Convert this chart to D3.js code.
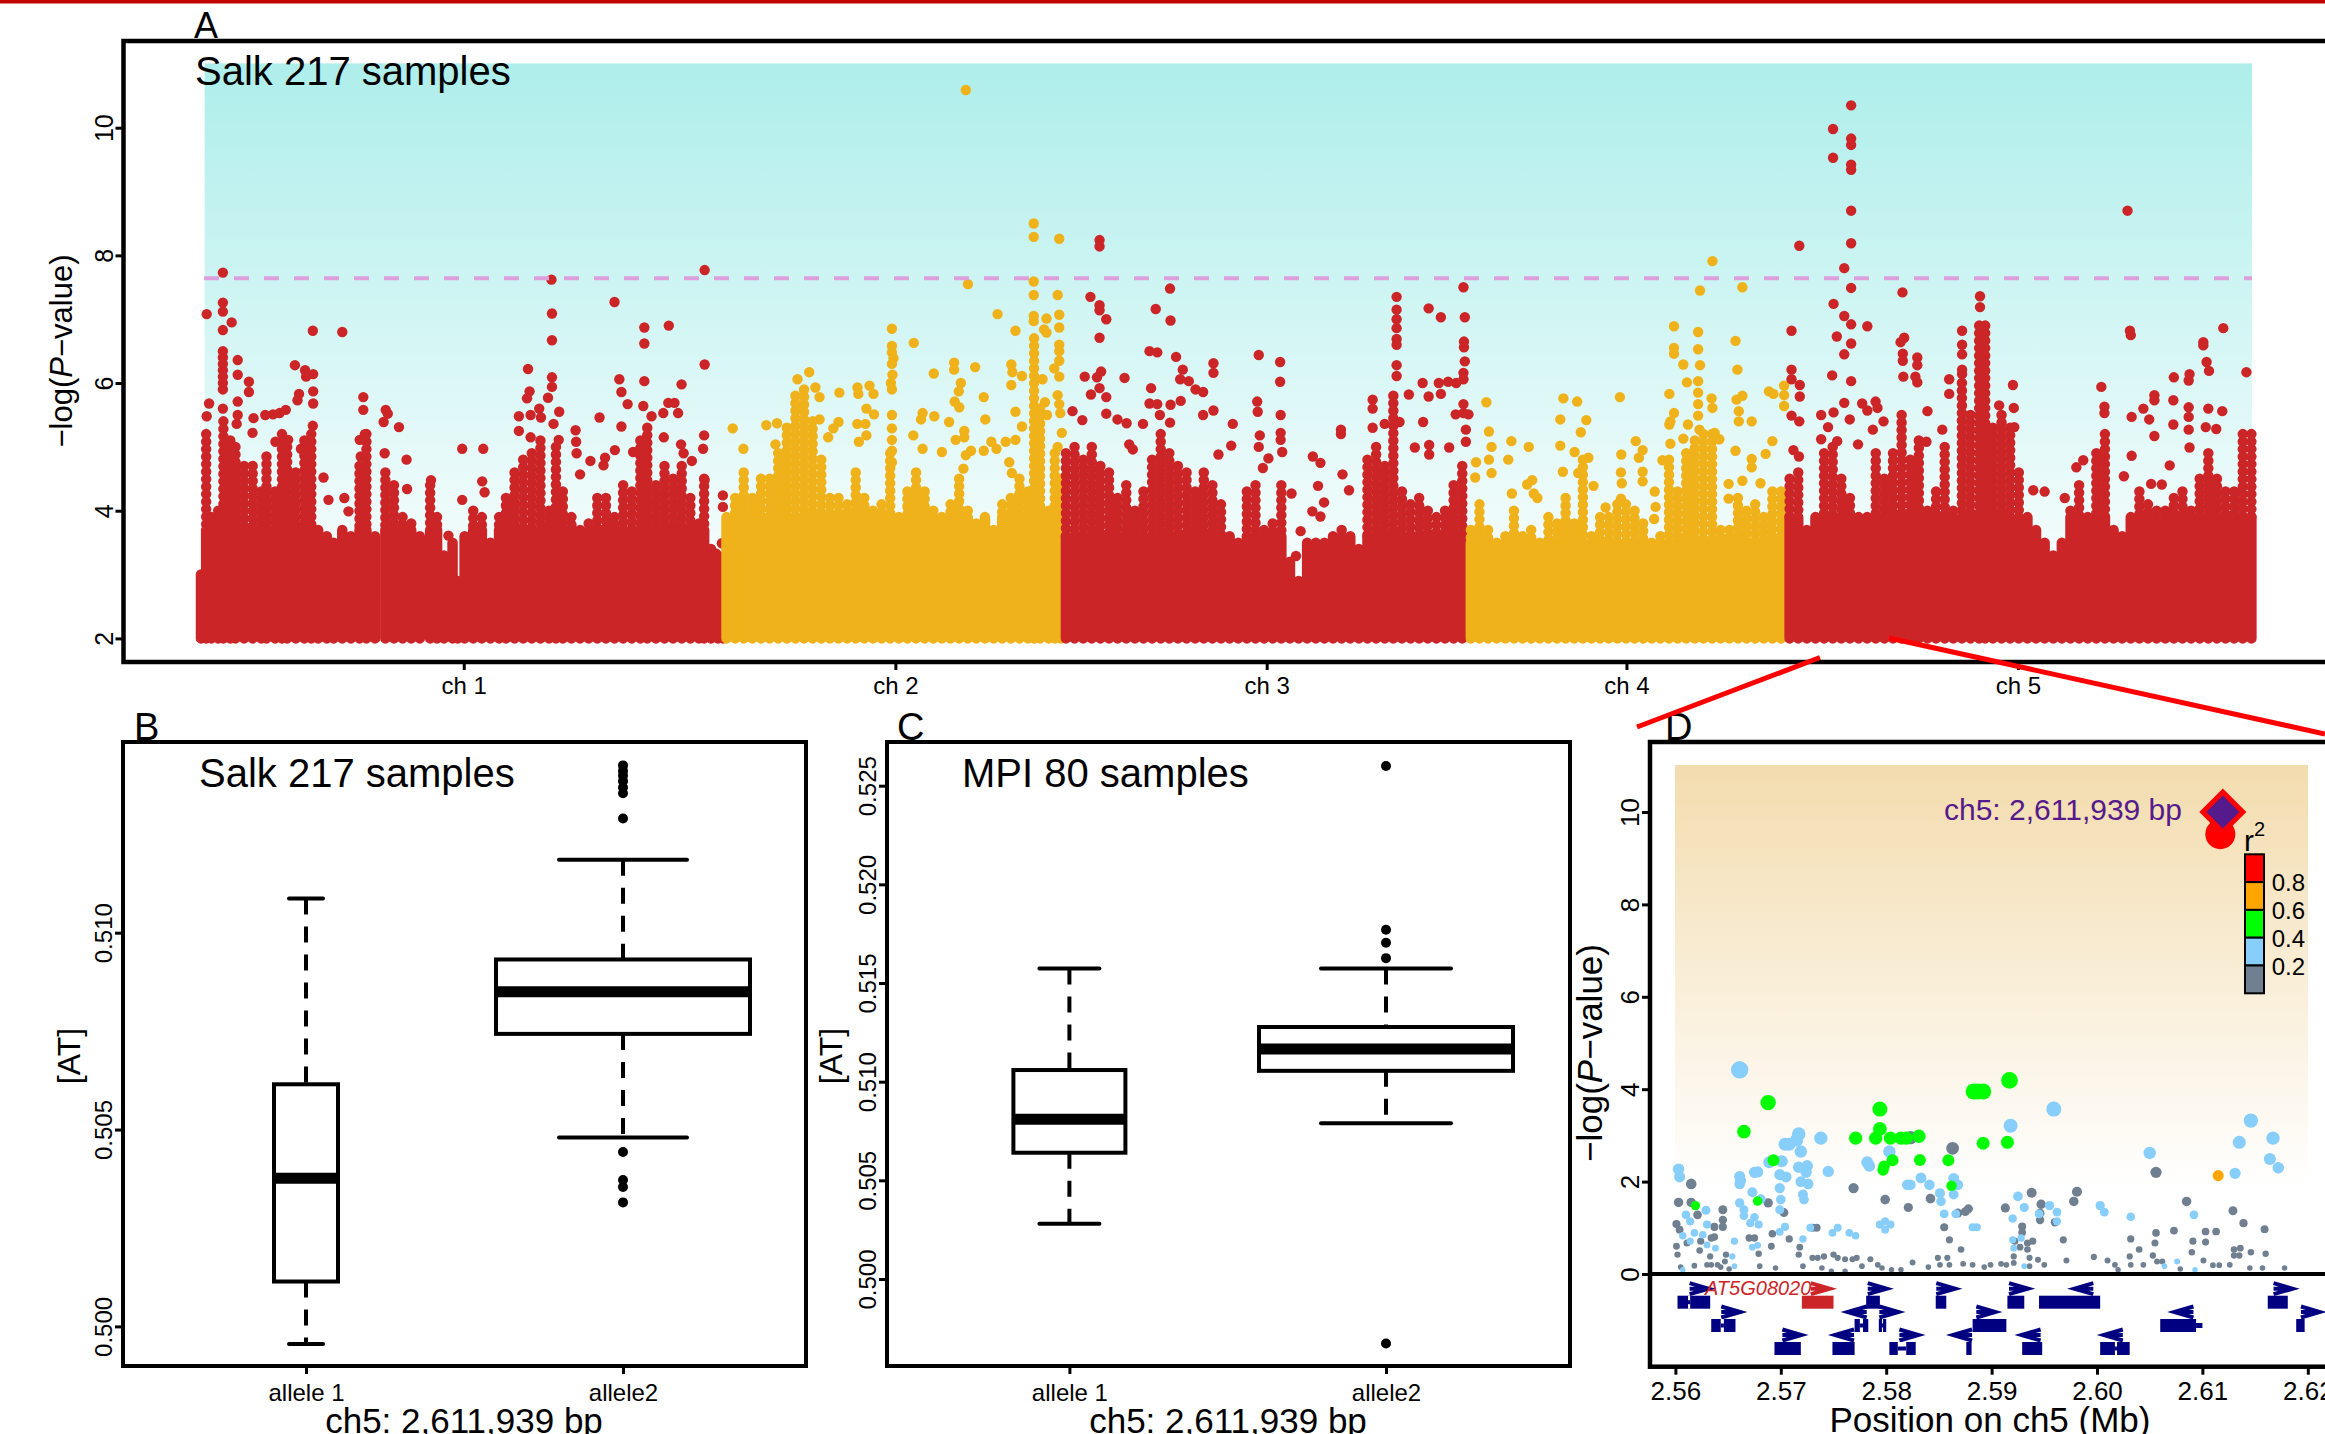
<!DOCTYPE html>
<html>
<head>
<meta charset="utf-8">
<script src="https://cdn.jsdelivr.net/npm/d3@7"></script>
<style>
  html, body { margin: 0; padding: 0; background: #fff; overflow: hidden; }
  svg { display: block; }
  text { font-family: "Liberation Sans", Arial, sans-serif; fill: #000; }
</style>
</head>
<body>
<svg id="chart" width="2325" height="1434"></svg>
<script>
// ---- panel A: column tops per chromosome, [Mb along the genome, -log P]
var ch1Tops = [[0,3.0],[0.3,5.2],[0.6,3.9],[1,4],[1.3,5.4],[1.7,5.1],[2,5],[2.5,4.7],[3,4.7],[3.5,4.3],[3.8,4.85],[4.3,4.3],[4.7,5.2],[5,5],[5.5,4.6],[6,5.1],[6.4,5.2],[6.8,3.7],[7.3,3.6],[7.7,3.5],[8.2,3.7],[8.7,3.6],[9.2,4.7],[9.6,5.2],[10.1,3.6],[10.7,4.6],[11.2,4.4],[11.7,3.9],[12.2,3.8],[12.7,3.6],[13.3,4.4],[13.7,3.9],[14.1,3.3],[14.6,3.5],[14.9,2.9],[15.3,3.6],[15.8,4],[16.3,3.9],[16.8,3.5],[17.3,3.9],[17.7,4.2],[18.2,4.6],[18.7,4.8],[19.2,4.9],[19.7,5.1],[20.2,4],[20.6,5],[21,4.3],[21.5,3.9],[22,3.7],[22.5,3.8],[23,4.2],[23.5,4.2],[24,3.9],[24.5,4.4],[25,4.3],[25.5,5.1],[25.9,5.3],[26.4,4.4],[26.9,4.7],[27.4,4.5],[27.9,4.7],[28.4,4.2],[28.9,3.8],[29.2,4.5],[29.6,3.4],[30,3.3],[30.3,3.2]];
var ch2Tops = [[30.5,3.9],[31,4.2],[31.5,4.6],[32,4.2],[32.5,4.5],[33,4.5],[33.5,4.9],[34,5.3],[34.5,5.8],[35,5.9],[35.5,5.4],[36,4.8],[36.5,4.2],[37,4.2],[37.5,4.1],[38,4.6],[38.5,4.2],[39,4],[39.5,4.1],[40,4.9],[40.5,3.9],[41,4.3],[41.5,4.6],[42,4.3],[42.5,4],[43,3.9],[43.5,4.1],[44,4.5],[44.5,4],[45,3.8],[45.5,3.9],[46,3.7],[46.5,4.1],[47,4.2],[47.5,4.5],[48,4.3],[48.35,6.7],[48.7,5.6],[49.2,4],[49.55,4.9],[49.9,4.5]];
var ch3Tops = [[50.2,4.9],[50.7,5],[51.2,4.8],[51.7,5],[52.2,4.7],[52.7,4.6],[53.2,4.2],[53.7,4.4],[54.2,4],[54.7,4.3],[55.2,4.8],[55.7,5.2],[56.2,4.9],[56.7,4.7],[57.2,4.6],[57.7,4.3],[58.2,4.6],[58.7,4.4],[59.2,4.1],[59.7,3.6],[60.2,3.5],[60.7,4.3],[61.2,4.4],[61.7,3.7],[62.2,3.8],[62.7,4.4],[63.2,3.2],[63.7,2.9],[64.2,3.5],[64.7,3.5],[65.2,3.5],[65.7,3.6],[66.2,3.7],[66.7,3.6],[67.2,3.4],[67.7,4.8],[68.2,5],[68.7,4.7],[69.2,5.8],[69.7,4.3],[70.2,4.1],[70.7,4.2],[71.2,4],[71.7,3.9],[72.2,4],[72.7,4.4],[73.2,4.7]];
var ch4Tops = [[73.7,3.7],[74.2,4.1],[74.7,3.7],[75.2,3.5],[75.7,3.6],[76.2,4],[76.7,3.6],[77.2,3.7],[77.7,3.5],[78.2,3.9],[78.7,3.8],[79.2,4.2],[79.7,3.8],[80.2,4.8],[80.7,3.6],[81.2,3.9],[81.7,3.9],[82.2,4.1],[82.7,4.1],[83.2,4],[83.7,3.8],[84.2,3.5],[84.7,3.6],[85.2,4.8],[85.7,4.3],[86.2,4.9],[86.7,5.1],[87.2,5.2],[87.7,5.2],[88.2,3.7],[88.7,3.7],[89.2,4.2],[89.7,4],[90.2,4.1],[90.7,3.9],[91.2,4.3],[91.7,4.3]];
var ch5Tops = [[92.2,4.5],[92.7,4.6],[93.2,3.7],[93.7,3.9],[94.2,4.9],[94.7,5],[95.2,4.5],[95.7,4.2],[96.2,3.9],[96.7,3.9],[97.2,4.9],[97.7,4.5],[98.2,4.9],[98.7,5.5],[99.2,4.8],[99.7,5.1],[100.2,4],[100.7,4.3],[101.2,5],[101.7,4],[102.2,6],[102.7,5.5],[103.2,6.9],[103.55,6.9],[104,5.3],[104.5,5.5],[105,5.3],[105.5,4.6],[106,3.9],[106.5,3.7],[107,3.5],[107.5,3.3],[108,3.5],[108.5,4],[109,4.4],[109.5,3.9],[110,4.9],[110.5,5.2],[111,3.7],[111.5,3.6],[112,3.9],[112.5,4.3],[113,4.1],[113.5,4],[114,4],[114.5,4.2],[115,4.3],[115.5,4],[116,4.5],[116.5,4.9],[117,4.5],[117.5,4.3],[118,4.3],[118.5,5.2],[119,5.2]];

// level below which each chromosome is an unbroken mass of dots
var solidLevels = [3.7, 3.9, 3.6, 3.5, 3.9];

// ---- panel A: single SNPs standing above the mass
var ch1Snps = [[0.33,7.08],[1.27,7.73],[1.27,7.26],[1.27,7.12],[1.78,6.95],[1.27,6.83],[1.27,6.5],[1.27,6.4],[1.27,6.3],[1.27,6.2],[1.27,6.1],[1.27,6],[1.27,5.9],[2.13,6.36],[2.13,6.13],[2.78,6.02],[2.78,5.86],[0.47,5.68],[0.33,5.48],[2.13,5.71],[1.27,5.6],[2.13,5.5],[2.07,5.36],[3.05,5.45],[3.73,5.5],[4.18,5.51],[4.56,5.53],[4.92,5.58],[5.45,6.28],[6.04,6.2],[6.1,6.1],[6.51,6.14],[6.49,6.82],[8.2,6.8],[5.69,5.83],[5.6,5.73],[6.51,5.87],[6.51,5.68],[6.49,5.33],[9.42,5.78],[9.42,5.58],[10.72,5.58],[10.84,5.52],[10.6,5.39],[11.49,5.31],[15.16,4.97],[16.38,4.97],[18.98,6.22],[19.07,5.87],[18.92,5.76],[20.14,5.77],[20.34,7.62],[20.37,7.09],[20.37,6.67],[20.37,6.09],[20.37,5.94],[24,7.27],[25.73,6.87],[25.73,6.62],[27.15,6.9],[29.23,7.77],[29.23,6.29],[24.28,6.06],[24.4,5.86],[24.76,5.67],[25.73,6.03],[25.67,5.64],[27.89,5.98],[27.12,5.69],[27.48,5.69],[26.83,5.53],[27.69,5.53],[26.15,5.48],[23.13,5.46],[24.4,5.32],[21.74,5.26],[21.77,5.08],[21.8,4.9],[20.79,5.55],[24.02,4.95],[22.6,4.78],[22,4.57],[23.45,4.83],[23.36,4.71],[18.45,5.48],[18.45,5.25],[19.13,5.5],[19.63,5.6],[19.73,5.46],[20.46,5.36],[19.13,5.15],[20.76,5.11],[25.08,4.92],[26.86,5.15],[27.86,5.04],[28.01,4.9],[28.49,4.78],[29.2,5.18],[29.14,4.97],[29.23,4.48],[30.29,4.24],[30.29,4.06],[30.23,3.49],[29.88,3.33],[13.35,4.48],[11.93,4.8],[10.66,4.9],[11.96,4.34],[7.4,4.17],[8.32,4.2],[7.11,4.52],[8.56,3.99],[16.32,4.46],[15.16,4.17],[16.46,4.29],[14.36,3.61],[9.51,5.2],[9.21,5.11],[9.27,4.85],[4.32,5.08],[5.06,5.11],[4.77,5],[5.8,4.97],[2.99,5.22],[1.66,5.08]];
var ch2Snps = [[44.39,10.59],[44.51,7.55],[48.33,8.5],[48.33,8.29],[49.81,8.26],[48.33,7.59],[48.33,7.38],[49.72,7.38],[46.23,7.08],[49.81,7.07],[48.33,7.05],[48.33,6.97],[49.07,7.01],[49.81,6.87],[47.27,6.82],[48.93,6.84],[49.07,6.79],[40.1,6.85],[41.37,6.63],[40.1,6.58],[40.1,6.48],[40.19,6.39],[40.1,6.3],[40.13,6.13],[40.04,6],[40.1,5.9],[35.3,6.17],[35.66,5.93],[35.9,5.78],[37.05,5.85],[38.1,5.93],[38.15,5.83],[38.8,5.96],[39.03,5.83],[42.53,6.15],[43.71,6.32],[43.71,6.21],[44.93,6.25],[44.1,6],[43.98,5.87],[43.74,5.71],[44.01,5.62],[45.43,5.78],[47.03,6.29],[47.09,6.17],[47.65,6.11],[47.03,5.97],[47.27,5.55],[49.81,6.6],[49.81,6.5],[49.81,6.35],[49.81,6.1],[48.84,6.06],[49.52,6.23],[49.72,5.81],[49.81,5.67],[49.87,5.53],[48.98,5.7],[49.1,5.5],[49.96,5.22],[38.62,5.6],[39.06,5.51],[38.56,5.36],[38.09,5.36],[35.9,5.43],[37,5.39],[36.7,5.29],[36.4,5.15],[40.1,5.5],[40.1,5.29],[40.1,5.11],[40.1,4.94],[40.1,4.76],[38.62,5.18],[38.18,5.08],[41.88,5.53],[42.56,5.48],[41.79,5.43],[43.42,5.39],[45.52,5.43],[41.34,5.18],[44.3,5.25],[44.3,5.15],[43.8,5.11],[41.88,4.97],[43,4.92],[44.69,4.94],[45.43,4.94],[45.87,5.08],[46.17,4.97],[46.7,5.08],[47.27,5.11],[47.65,5.32],[44.39,4.87],[46.91,4.76],[44.25,4.66],[47.06,4.59],[49.72,5],[30.86,5.29],[32.81,5.34],[33.43,5.37],[31.48,4.97],[33.34,5.04],[34.62,6.06],[34.62,5.64]];
var ch3Snps = [[52.15,8.24],[52.15,8.14],[56.24,7.48],[73.27,7.5],[51.62,7.35],[52.15,7.22],[52.15,7.14],[52.54,7],[55.41,7.16],[56.27,6.98],[52.15,6.71],[69.39,7.35],[69.39,7.15],[69.39,7],[69.39,6.86],[69.39,6.69],[69.39,6.6],[71.25,7.17],[71.96,7.03],[73.35,7.03],[73.3,6.65],[73.3,6.56],[73.35,6.34],[73.27,6.16],[73.27,6.06],[69.39,6.28],[69.39,6.11],[55.05,6.5],[55.5,6.48],[56.59,6.41],[56.98,6.21],[56.83,6.06],[57.33,6.03],[57.72,5.9],[58.16,5.86],[58.76,6.31],[58.76,6.16],[61.39,6.44],[62.63,6.33],[62.63,6.02],[51.29,6.1],[52.24,6.18],[52,6.09],[53.6,6.08],[52.15,5.92],[51.65,5.82],[52.54,5.78],[55.14,5.92],[55.05,5.68],[55.5,5.67],[56.27,5.66],[56.86,5.72],[50.58,5.56],[52.54,5.52],[51.15,5.42],[53.19,5.43],[53.72,5.37],[54.67,5.36],[55.65,5.5],[56.24,5.38],[58.16,5.5],[58.76,5.57],[59.88,5.36],[61.3,5.71],[61.33,5.55],[62.66,5.5],[62.66,5.22],[62.66,5.11],[61.45,5.18],[61.39,5],[70.9,6],[71.84,6],[72.38,6.02],[72.85,6],[70.1,5.82],[71.25,5.79],[71.96,5.83],[73.27,5.67],[73.27,5.53],[72.82,5.51],[73.56,5.51],[70.93,5.39],[68,5.74],[68,5.6],[68.7,5.36],[69.56,5.39],[68,5.3],[73.41,5.27],[66.16,5.27],[66.16,5.2],[73.41,5.08],[71.28,5.03],[70.45,4.99],[71.28,4.88],[72.44,4.99],[53.87,5.04],[54.08,4.96],[59.79,5.02],[59.05,4.88],[64.53,4.85],[64.97,4.75],[62.75,4.92],[61.95,4.82],[61.63,4.67],[66.25,4.57],[64.83,4.39],[66.63,4.32],[65.18,4.13],[63.29,4.27],[64.5,3.99],[64.97,3.91],[63.82,3.68],[63.55,3.29]];
var ch4Snps = [[74.6,5.7],[79.07,5.76],[79.87,5.71],[78.89,5.43],[80.4,5.42],[74.75,5.24],[80.08,5.23],[76.05,5.09],[77.06,5],[78.89,5.02],[74.9,5],[74.75,4.8],[75.87,4.8],[79.72,4.92],[80.52,4.83],[74,4.76],[79.04,4.61],[79.93,4.59],[74.9,4.59],[77.26,4.48],[76.97,4.41],[80.82,4.39],[77.35,4.27],[77.56,4.2],[76.08,4.27],[73.95,4.52],[87.72,7.91],[87,7.45],[89.46,7.5],[85.49,6.89],[86.89,6.8],[89.06,6.66],[85.49,6.55],[85.49,6.46],[86.89,6.53],[86.03,6.29],[87,6.28],[89.17,6.21],[86.24,6.01],[86.89,6.03],[86.89,5.85],[86.89,5.67],[86.89,5.49],[86.97,5.27],[82.35,5.78],[85.22,5.83],[87.67,5.76],[87.72,5.61],[89.12,5.74],[89.46,5.8],[91,5.87],[91.26,5.83],[91.88,5.96],[91.88,5.81],[91.88,5.64],[89.25,5.56],[85.49,5.53],[85.28,5.4],[85.22,5.35],[89.25,5.4],[90,5.4],[86.3,5.35],[87.85,5.22],[88.12,5.12],[86.03,5.13],[85.28,5.05],[83.27,5.09],[83.67,4.95],[83.45,4.83],[82.43,4.88],[91.2,5.09],[89.06,4.94],[90.81,4.89],[90,4.81],[90,4.68],[84.82,4.79],[82.41,4.6],[83.67,4.61],[83.67,4.46],[82.46,4.43],[88.66,4.42],[88.66,4.19],[89.46,4.47],[90.51,4.43],[84.37,4.3],[84.42,4.06],[84.34,3.87],[81.52,4.05],[82.41,4.19]];
var ch5Snps = [[95.77,10.35],[94.72,9.98],[95.77,9.83],[95.77,9.73],[94.72,9.53],[95.77,9.42],[95.77,9.34],[95.77,8.7],[111.81,8.7],[92.76,8.15],[95.77,8.19],[95.37,7.8],[95.77,7.49],[98.75,7.42],[94.75,7.24],[95.37,7.05],[95.77,6.92],[96.71,6.89],[92.31,6.82],[94.94,6.73],[95.77,6.62],[95.37,6.45],[103.25,7.36],[103.25,7.19],[102.21,6.82],[102.21,6.6],[102.21,6.45],[102.21,6.21],[102.21,6.14],[111.95,6.82],[112,6.75],[117.37,6.86],[116.21,6.64],[116.21,6.59],[116.4,6.33],[116.54,6.19],[118.71,6.17],[114.5,6.09],[115.41,6.14],[115.36,6.04],[98.85,6.71],[98.64,6.64],[98.77,6.46],[98.77,6.35],[99.61,6.4],[99.61,6.28],[98.8,6.1],[99.5,6.1],[99.61,6.01],[94.67,6.12],[92.31,6.21],[92.31,6.06],[92.79,5.97],[92.79,5.79],[95.77,6.03],[101.46,6.06],[101.46,5.83],[105.16,5.97],[110.29,5.94],[113.37,5.81],[113.37,5.73],[114.47,5.73],[112.73,5.6],[110.47,5.63],[110.47,5.53],[115.36,5.62],[116.5,5.6],[117.31,5.56],[115.36,5.47],[112.05,5.47],[113.07,5.43],[114.47,5.35],[115.36,5.27],[116.35,5.31],[116.96,5.28],[113.37,5.17],[115.41,4.99],[112.05,4.86],[92.31,5.49],[92.76,5.4],[92.42,4.95],[92.74,4.85],[96.41,5.68],[96.71,5.57],[97.19,5.71],[97.3,5.61],[94.03,5.5],[94.75,5.54],[95.37,5.69],[95.69,5.43],[94.43,5.31],[94.96,5.09],[94.03,5.12],[97.65,5.4],[97.03,5.27],[100.2,5.56],[100.14,5.08],[96.17,5.04],[101.06,5.27],[104.36,5.65],[105.21,5.61],[105.24,5.31],[107,4.3],[106.34,4.32],[108.17,4.2],[108.84,4.68],[109.24,4.79],[113.18,4.42],[113.8,4.41],[111.6,4.54],[114.26,4.71]];

var chromNames = ["ch 1", "ch 2", "ch 3", "ch 4", "ch 5"];
var chromMids = [15.25, 40.3, 61.85, 82.73, 105.45];
var threshold = 7.64;
var yTicksA = [2, 4, 6, 8, 10];

// ---- panels B and C: [lower whisker, q1, median, q3, upper whisker]
var alleles = ["allele 1", "allele2"];
var salkStats = [[0.49955, 0.50114, 0.50376, 0.50615, 0.51087], [0.5048, 0.50743, 0.5085, 0.50932, 0.51185]];
var salkOutliers = [[], [0.51425, 0.51411, 0.51399, 0.51385, 0.51369, 0.51354, 0.5129, 0.50443, 0.50372, 0.50354, 0.50315]];
var mpiStats = [[0.5028, 0.5064, 0.5081, 0.51059, 0.51573], [0.50789, 0.51055, 0.51166, 0.51277, 0.51573]];
var mpiOutliers = [[], [0.526, 0.5177, 0.51704, 0.51626, 0.49673]];
var yTicksB = [0.5, 0.505, 0.51];
var yTicksC = [0.5, 0.505, 0.51, 0.515, 0.52, 0.525];

// ---- panel D: [position Mb, -log P] per r2 class
var r2Green = [[2.5665,3.08],[2.5688,3.71],[2.5619,1.48],[2.5678,1.58],[2.5693,2.46],[2.5794,3.57],[2.5794,3.14],[2.579,2.94],[2.5771,2.94],[2.5804,2.94],[2.5814,2.94],[2.5819,2.94],[2.5831,2.98],[2.5806,2.46],[2.5798,2.33],[2.5797,2.25],[2.5832,2.47],[2.5859,2.46],[2.5862,1.91],[2.5883,3.95],[2.5887,3.95],[2.5892,3.95],[2.5917,4.19],[2.5892,2.83],[2.5915,2.85]];
var r2Orange = [[2.6115,2.13]];
var r2Blue = [[2.5661,4.42],[2.5717,3.03],[2.5715,2.9],[2.5738,2.94],[2.5704,2.81],[2.5708,2.81],[2.5719,2.65],[2.5689,2.42],[2.5701,2.44],[2.5725,2.34],[2.5717,2.31],[2.5724,2.2],[2.5745,2.22],[2.5678,2.21],[2.5675,2.2],[2.5603,2.27],[2.5604,2.1],[2.5661,2.11],[2.5662,2.02],[2.5661,1.95],[2.5699,2.15],[2.5705,2.1],[2.5699,1.86],[2.5719,2],[2.5726,1.95],[2.5721,1.72],[2.5722,1.61],[2.5673,1.77],[2.5661,1.54],[2.5665,1.39],[2.5665,1.26],[2.5681,1.62],[2.57,1.61],[2.5699,1.39],[2.561,1.28],[2.5629,1.38],[2.5614,1.14],[2.563,1.07],[2.5607,0.83],[2.5618,0.89],[2.5626,0.85],[2.5614,0.71],[2.563,0.63],[2.5638,0.56],[2.5671,1.1],[2.5675,1.23],[2.5679,1.07],[2.5704,1.02],[2.5699,0.91],[2.5728,1],[2.5754,1],[2.5749,0.89],[2.5765,0.89],[2.5771,0.83],[2.5721,0.76],[2.5656,0.71],[2.5673,0.58],[2.5678,0.62],[2.5654,0.38],[2.5803,2.65],[2.5782,2.42],[2.5784,2.34],[2.582,1.93],[2.5823,1.93],[2.5833,2.08],[2.5841,1.93],[2.5851,1.75],[2.5852,1.57],[2.5864,2.07],[2.5868,1.93],[2.5864,1.72],[2.5855,1.3],[2.5866,1.3],[2.5794,1.07],[2.5799,1.14],[2.5804,1.07],[2.5799,0.96],[2.5882,1.01],[2.5886,1.01],[2.5918,3.21],[2.5959,3.57],[2.5925,1.68],[2.5931,1.44],[2.592,1.2],[2.592,0.74],[2.5928,0.78],[2.5921,0.56],[2.5945,1.3],[2.5955,1.48],[2.5962,1.34],[2.5962,1.14],[2.6003,1.48],[2.6007,1.34],[2.6032,1.24],[2.605,2.62],[2.6092,1.28],[2.6135,2.85],[2.6146,3.32],[2.6167,2.94],[2.6164,2.49],[2.6172,2.3],[2.6131,2.18],[2.6076,0.27],[2.6064,0.17],[2.5931,0.17],[2.6093,0.09],[2.5607,0.09],[2.5656,0.17]];
var r2Grey = [[2.5615,1.95],[2.5603,1.55],[2.5615,1.55],[2.5621,1.28],[2.5645,1.39],[2.5688,1.54],[2.5703,1.33],[2.5601,1.08],[2.5604,0.96],[2.5637,1.02],[2.5645,1.17],[2.5645,1.02],[2.5634,0.78],[2.5637,0.8],[2.5624,0.71],[2.5611,0.67],[2.5601,0.6],[2.5602,0.42],[2.5623,0.51],[2.5633,0.38],[2.5648,0.42],[2.5634,0.2],[2.564,0.2],[2.5647,0.27],[2.5618,0.18],[2.563,0.2],[2.5605,0.15],[2.5643,0.15],[2.5651,0.11],[2.567,0.78],[2.5675,0.78],[2.5692,0.87],[2.5691,0.6],[2.5708,0.76],[2.5679,0.44],[2.5718,0.58],[2.5717,0.42],[2.5721,0.17],[2.568,0.17],[2.5695,0.13],[2.573,1],[2.5734,1],[2.573,0.35],[2.5735,0.35],[2.5741,0.38],[2.575,0.42],[2.5754,0.35],[2.5761,0.32],[2.5768,0.32],[2.5772,0.35],[2.5785,0.32],[2.5739,0.13],[2.5748,0.06],[2.5761,0.06],[2.5777,0.17],[2.5792,0.2],[2.5796,0.13],[2.5805,0.09],[2.5814,0.09],[2.5825,0.25],[2.584,0.15],[2.5849,0.35],[2.5858,0.35],[2.5851,0.2],[2.586,0.2],[2.5873,0.22],[2.5882,0.2],[2.5893,0.15],[2.5899,0.2],[2.5909,0.22],[2.5914,0.2],[2.5871,0.53],[2.5769,1.86],[2.5799,1.61],[2.5821,1.44],[2.5842,1.63],[2.5855,1.01],[2.586,0.74],[2.5863,2.72],[2.5823,2.95],[2.5868,1.32],[2.5875,1.35],[2.5878,1.41],[2.5913,1.43],[2.5938,1.76],[2.5947,1.51],[2.5946,1.32],[2.5946,1.17],[2.596,1.12],[2.5929,1.03],[2.5929,0.9],[2.5922,0.71],[2.5927,0.58],[2.5934,0.67],[2.5939,0.71],[2.5934,0.53],[2.5936,0.35],[2.5944,0.31],[2.5921,0.38],[2.5921,0.24],[2.5936,0.17],[2.595,0.2],[2.5968,0.74],[2.5971,0.29],[2.5978,1.57],[2.5981,1.78],[2.5997,0.37],[2.601,0.29],[2.6017,0.2],[2.602,0.09],[2.6031,0.38],[2.6032,0.76],[2.6032,0.2],[2.604,0.53],[2.6044,0.2],[2.6053,0.4],[2.6056,0.89],[2.6055,0.67],[2.6057,0.27],[2.6056,2.2],[2.6073,0.94],[2.6085,1.57],[2.609,0.47],[2.6091,0.71],[2.6103,0.92],[2.6113,0.92],[2.6103,0.69],[2.6101,0.29],[2.611,0.19],[2.6116,0.19],[2.6126,0.2],[2.6129,1.37],[2.6139,1.1],[2.6159,0.97],[2.613,0.53],[2.6136,0.56],[2.613,0.4],[2.6135,0.4],[2.6146,0.47],[2.616,0.44],[2.6145,0.13],[2.6157,0.13],[2.6178,0.13],[2.6079,0.11],[2.6062,0.27]];
var leadCircle = [2.6117, 9.52];
var leadSnp = [2.611939, 10];
var xTicksD = [2.56, 2.57, 2.58, 2.59, 2.6, 2.61, 2.62];
var yTicksD = [0, 2, 4, 6, 8, 10];

// genes: [start Mb, end Mb, row, strand, arrow centre Mb]
var genes = [
  [2.5602,2.5633,0,1,2.5623],[2.5720,2.5750,0,1,2.5738],[2.5781,2.5794,0,1,2.5792],[2.5847,2.5857,0,1,2.5857],[2.5915,2.5931,0,1,2.5926],[2.5945,2.6003,0,-1,2.5987],[2.6162,2.6181,0,1,2.6177],
  [2.5634,2.5657,1,1,2.5653],[2.5770,2.5783,1,-1,2.5772],[2.5793,2.5800,1,1,2.5803],[2.5882,2.5914,1,1,2.5895],[2.6060,2.6094,1,-1,2.6082],[2.6189,2.6197,1,1,2.6203],
  [2.5694,2.5719,2,1,2.5711],[2.5749,2.5770,2,-1,2.5760],[2.5803,2.5828,2,1,2.5822],[2.5876,2.5881,2,-1,2.5872],[2.5929,2.5948,2,-1,2.5937],[2.6003,2.6031,2,-1,2.6015]
];
// introns inside the gene bars: [start Mb, end Mb, row]
var geneGaps = [[2.5612,2.5614,0],[2.5643,2.5646,1],[2.5775,2.5778,1],[2.5796,2.5797,1],[2.5811,2.5819,2],[2.6017,2.6019,2]];
var geneTail = [2.6094, 2.6100, 1];
var highlightGene = "AT5G08020";
var highlightIndex = 1;
var r2Labels = ["0.8", "0.6", "0.4", "0.2"];
var r2Colors = ["#ff0000", "#ffa500", "#00ff00", "#87cefa", "#708090"];

var RED = "#cc2528", GOLD = "#efb21a", NAVY = "#000080";

var svg = d3.select("#chart");
var defs = svg.append("defs");

function addGradient(id, top) {
  var g = defs.append("linearGradient").attr("id", id).attr("x1", 0).attr("x2", 0).attr("y1", 0).attr("y2", 1);
  g.append("stop").attr("offset", "0%").attr("stop-color", top);
  g.append("stop").attr("offset", "100%").attr("stop-color", "#ffffff");
}
addGradient("gradA", "#aeeeeb");
addGradient("gradD", "#f3dcae");

// add text helper
function label(x, y, str, size, anchor, rotate) {
  var t = svg.append("text").attr("font-size", size).attr("text-anchor", anchor || "start");
  if (rotate) t.attr("transform", `translate(${x},${y}) rotate(-90)`);
  else t.attr("x", x).attr("y", y);
  return t.text(str);
}

// left axis with the R style rotated labels
function leftAxis(scale, ticks, left, fmt, size) {
  var g = svg.append("g").attr("transform", `translate(${left},0)`)
    .call(d3.axisLeft(scale).tickValues(ticks).tickSize(8).tickFormat(fmt));
  g.select(".domain").remove();
  g.selectAll("line").attr("stroke", "#000").attr("stroke-width", 3);
  g.selectAll("text").attr("x", null).attr("dy", null).attr("text-anchor", "middle")
    .attr("font-size", size).attr("font-family", "Liberation Sans")
    .attr("transform", "translate(-11,0) rotate(-90)");
}

function bottomAxis(scale, ticks, bottom, fmt, size, pad) {
  var g = svg.append("g").attr("transform", `translate(0,${bottom})`)
    .call(d3.axisBottom(scale).tickValues(ticks).tickSize(8).tickPadding(pad).tickFormat(fmt));
  g.select(".domain").remove();
  g.selectAll("line").attr("stroke", "#000").attr("stroke-width", 3);
  g.selectAll("text").attr("font-size", size).attr("font-family", "Liberation Sans");
}

// frame, open past the right edge of the page for A and D
function frame(x0, y0, x1, y1, w) {
  svg.append("rect").attr("x", x0).attr("y", y0).attr("width", x1 - x0).attr("height", y1 - y0)
    .attr("fill", "none").attr("stroke", "#000").attr("stroke-width", w);
}

// ---- top rule of the page
svg.append("rect").attr("x", 0).attr("y", 0).attr("width", 2325).attr("height", 3.5).attr("fill", "#c00000");

// ---- panel A
var xA = d3.scaleLinear().domain([0, 119.25]).range([201, 2255.7]);
var yA = d3.scaleLinear().domain([2, 10]).range([638.4, 127.7]);

svg.append("rect").attr("x", 204.6).attr("y", 63.4).attr("width", 2047.4).attr("height", 576)
  .attr("fill", "url(#gradA)");

var chroms = [
  {tops: ch1Tops, snps: ch1Snps, color: RED},
  {tops: ch2Tops, snps: ch2Snps, color: GOLD},
  {tops: ch3Tops, snps: ch3Snps, color: RED},
  {tops: ch4Tops, snps: ch4Snps, color: GOLD},
  {tops: ch5Tops, snps: ch5Snps, color: RED}
];

chroms.forEach(function(c, i) {
  var g = svg.append("g");
  var solid = solidLevels[i];
  // solid part of every column
  g.selectAll("line.base").data(c.tops).join("line").attr("class", "base")
    .attr("x1", d => xA(d[0])).attr("x2", d => xA(d[0]))
    .attr("y1", yA(2)).attr("y2", d => yA(Math.min(d[1], solid)))
    .attr("stroke", c.color).attr("stroke-width", 10.5).attr("stroke-linecap", "round");
  // above it the column is a stack of touching dots
  g.selectAll("line.stack").data(c.tops.filter(d => d[1] > solid)).join("line").attr("class", "stack")
    .attr("x1", d => xA(d[0])).attr("x2", d => xA(d[0]))
    .attr("y1", d => yA(d[1])).attr("y2", yA(solid))
    .attr("stroke", c.color).attr("stroke-width", 10.5).attr("stroke-linecap", "round")
    .attr("stroke-dasharray", "0 7.5");
  g.selectAll("circle").data(c.snps).join("circle")
    .attr("cx", d => xA(d[0])).attr("cy", d => yA(d[1])).attr("r", 5.2)
    .attr("fill", c.color);
});

svg.append("line").attr("x1", 204).attr("x2", 2252).attr("y1", yA(threshold)).attr("y2", yA(threshold))
  .attr("stroke", "#dda0dd").attr("stroke-width", 4).attr("stroke-dasharray", "15 15");

frame(123.5, 41, 2400, 662, 4.5);
leftAxis(yA, yTicksA, 123.5, d3.format("d"), 25);
bottomAxis(xA, chromMids, 662, (d, i) => chromNames[i], 24, 7);
label(194, 38, "A", 36);
label(195, 85, "Salk 217 samples", 40);
var titleA = label(72, 351, "", 31, "middle", true);
titleA.append("tspan").text("\u2212log(");
titleA.append("tspan").attr("font-style", "italic").text("P");
titleA.append("tspan").text("\u2212value)");

// ---- panels B and C
function boxPanel(cfg) {
  var x = d3.scalePoint().domain(alleles).range(cfg.centres);
  var y = d3.scaleLinear().domain(cfg.yDomain).range(cfg.yRange);

  frame(cfg.left, 742, cfg.right, 1366, 4);
  leftAxis(y, cfg.ticks, cfg.left, d3.format(".3f"), 24);
  bottomAxis(x, alleles, 1366, d => d, 24, 10);

  alleles.forEach(function(name, i) {
    var s = cfg.stats[i], cx = x(name), g = svg.append("g");
    var hb = cfg.boxHalf[i], hc = cfg.capHalf[i];
    [[s[3], s[4]], [s[0], s[1]]].forEach(function(w) {
      g.append("line").attr("x1", cx).attr("x2", cx).attr("y1", y(w[1])).attr("y2", y(w[0]))
        .attr("stroke", "#000").attr("stroke-width", 4).attr("stroke-dasharray", "16 12");
    });
    [s[0], s[4]].forEach(function(v) {
      g.append("line").attr("x1", cx - hc).attr("x2", cx + hc).attr("y1", y(v)).attr("y2", y(v))
        .attr("stroke", "#000").attr("stroke-width", 4).attr("stroke-linecap", "round");
    });
    g.append("rect").attr("x", cx - hb).attr("width", 2 * hb)
      .attr("y", y(s[3])).attr("height", y(s[1]) - y(s[3]))
      .attr("fill", "#fff").attr("stroke", "#000").attr("stroke-width", 4);
    g.append("line").attr("x1", cx - hb).attr("x2", cx + hb).attr("y1", y(s[2])).attr("y2", y(s[2]))
      .attr("stroke", "#000").attr("stroke-width", 11);
    g.selectAll("circle").data(cfg.outliers[i]).join("circle")
      .attr("cx", cx).attr("cy", d => y(d)).attr("r", 5).attr("fill", "#000");
  });

  label(cfg.letterX, 740, cfg.letter, 38);
  label(cfg.titleX, 786.6, cfg.title, 40);
  label(cfg.atX, 1056, "[AT]", 32, "middle", true);
  label(cfg.footX, 1433, "ch5: 2,611,939 bp", 35, "middle");
}

boxPanel({
  letter: "B", letterX: 134, title: "Salk 217 samples", titleX: 199,
  left: 123, right: 806, centres: [306, 623], atX: 80, footX: 464,
  yDomain: [0.5, 0.51], yRange: [1326.4, 932.7], ticks: yTicksB,
  stats: salkStats, outliers: salkOutliers, boxHalf: [32, 127], capHalf: [17, 64]
});
boxPanel({
  letter: "C", letterX: 897, title: "MPI 80 samples", titleX: 962,
  left: 887, right: 1570, centres: [1069.4, 1386], atX: 842, footX: 1228,
  yDomain: [0.5, 0.525], yRange: [1279, 785.7], ticks: yTicksC,
  stats: mpiStats, outliers: mpiOutliers, boxHalf: [56, 127], capHalf: [30, 65]
});

// ---- panel D
var xD = d3.scaleLinear().domain([2.56, 2.62]).range([1675.4, 2307.8]);
var yD = d3.scaleLinear().domain([0, 10]).range([1274, 812]);
var rD = d3.scaleLinear().domain([0, 4.5]).range([2.6, 8.8]);

svg.append("rect").attr("x", 1675).attr("y", 765).attr("width", 633).attr("height", 420)
  .attr("fill", "url(#gradD)");

[[r2Grey, r2Colors[4]], [r2Blue, r2Colors[3]], [r2Green, r2Colors[2]], [r2Orange, r2Colors[1]]].forEach(function(s) {
  svg.append("g").selectAll("circle").data(s[0]).join("circle")
    .attr("cx", d => xD(d[0])).attr("cy", d => yD(d[1])).attr("r", d => rD(d[1]))
    .attr("fill", s[1]);
});

svg.append("circle").attr("cx", xD(leadCircle[0])).attr("cy", yD(leadCircle[1])).attr("r", 15).attr("fill", "#ff0000");
svg.append("path").attr("transform", `translate(${xD(leadSnp[0])},${yD(leadSnp[1])})`)
  .attr("d", "M0,-20L20,0L0,20L-20,0Z").attr("fill", "#551a8b").attr("stroke", "#ff0000").attr("stroke-width", 5);
label(1944, 820, "ch5: 2,611,939 bp", 30).style("fill", "#551a8b");

// r2 legend
var legY = d3.scaleBand().domain(r2Colors).range([854.3, 993.3]);
svg.append("g").selectAll("rect").data(r2Colors).join("rect")
  .attr("x", 2245).attr("width", 19).attr("y", d => legY(d)).attr("height", legY.bandwidth())
  .attr("fill", d => d).attr("stroke", "#000").attr("stroke-width", 2);
svg.append("g").selectAll("text").data(r2Labels).join("text")
  .attr("x", 2271.7).attr("y", (d, i) => legY(r2Colors[i + 1]) + 9).attr("font-size", 24).text(d => d);
label(2244, 851, "r", 30);
label(2254, 836, "2", 20);

// genes
var rowTop = [1281.7, 1305, 1328];
var gGenes = svg.append("g");
genes.forEach(function(d, i) {
  var col = i === highlightIndex ? RED : NAVY;
  var top = rowTop[d[2]], ax = xD(d[4]), s = d[3];
  gGenes.append("rect").attr("x", xD(d[0])).attr("width", xD(d[1]) - xD(d[0]))
    .attr("y", top + 14).attr("height", 13).attr("fill", col);
  gGenes.append("path")
    .attr("d", `M${ax - 10 * s},${top + 1.5}L${ax + 9 * s},${top + 7}L${ax - 10 * s},${top + 12.5}M${ax - 10 * s},${top + 7}L${ax + 9 * s},${top + 7}`)
    .attr("fill", "none").attr("stroke", col).attr("stroke-width", 4);
});
gGenes.selectAll("rect.gap").data(geneGaps).join("rect").attr("class", "gap")
  .attr("x", d => xD(d[0])).attr("width", d => xD(d[1]) - xD(d[0]))
  .attr("y", d => rowTop[d[2]] + 14).attr("height", 13).attr("fill", "#fff");
gGenes.selectAll("rect.gap2").data(geneGaps).join("rect").attr("class", "gap2")
  .attr("x", d => xD(d[0])).attr("width", d => xD(d[1]) - xD(d[0]))
  .attr("y", d => rowTop[d[2]] + 18.5).attr("height", 4).attr("fill", NAVY);
gGenes.append("rect").attr("x", xD(geneTail[0])).attr("width", xD(geneTail[1]) - xD(geneTail[0]))
  .attr("y", rowTop[geneTail[2]] + 18).attr("height", 5).attr("fill", NAVY);
label(1705, 1295, highlightGene, 20).attr("font-style", "italic").style("fill", RED);

frame(1650, 742, 2400, 1366.7, 4.5);
svg.append("line").attr("x1", 1650).attr("x2", 2325).attr("y1", yD(0)).attr("y2", yD(0))
  .attr("stroke", "#000").attr("stroke-width", 4);
leftAxis(yD, yTicksD, 1650, d3.format("d"), 26);
bottomAxis(xD, xTicksD, 1366.7, d3.format(".2f"), 26, 7);
label(1665, 740, "D", 38);
var titleD = label(1591 + 11, 1053, "", 35, "middle", true);
titleD.append("tspan").text("\u2212log(");
titleD.append("tspan").attr("font-style", "italic").text("P");
titleD.append("tspan").text("\u2212value)");
label(1990, 1431.7, "Position on ch5 (Mb)", 35, "middle");

// ---- red zoom lines from A to D
svg.append("path").attr("d", "M1820,657.5L1637,727M1889,638L2325,734")
  .attr("fill", "none").attr("stroke", "#ff0000").attr("stroke-width", 5);
</script>
</body>
</html>
